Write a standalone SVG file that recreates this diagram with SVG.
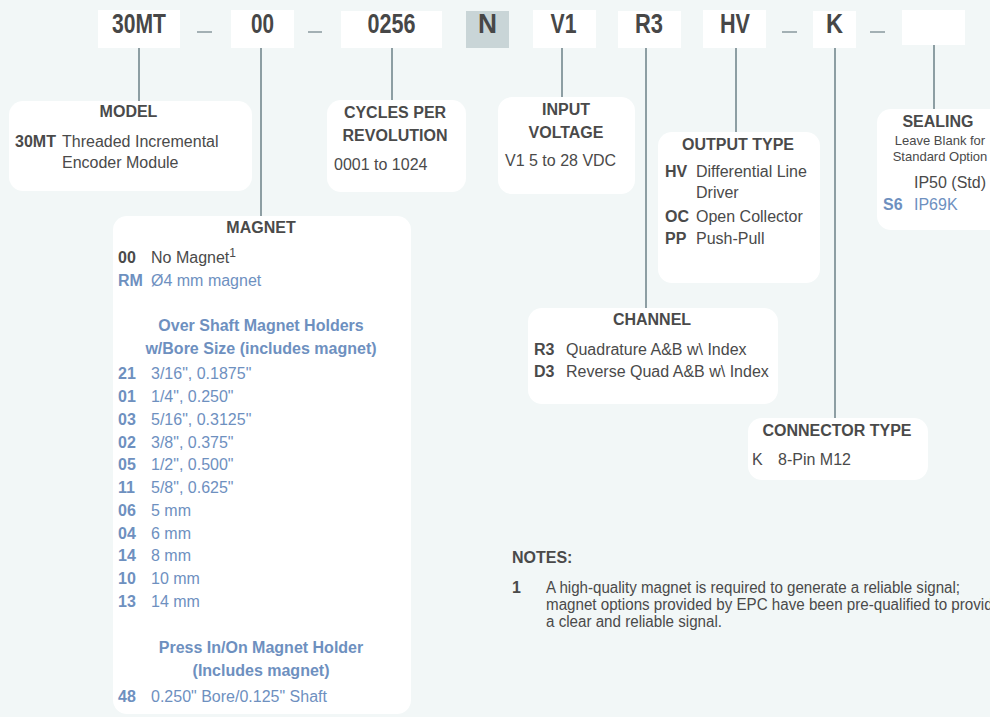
<svg xmlns="http://www.w3.org/2000/svg" width="990" height="717" viewBox="0 0 990 717">
<style>
text{font-family:"Liberation Sans",Arial,sans-serif;fill:#4a4a4a;font-size:16px}
.top{font-weight:bold;font-size:27px;text-anchor:middle;fill:#474747}
.t{font-weight:bold;text-anchor:middle}
.b{font-weight:bold}
.blue{fill:#6e90bf}
.sm{font-size:13px;text-anchor:middle}
.note{font-size:16px}
.card{fill:#ffffff}
.seg{fill:#ffffff}
.dash{stroke:#a3b0b4;stroke-width:2}
.conn{stroke:#8d9ea3;stroke-width:2;fill:none}
</style>
<rect x="0" y="0" width="990" height="717" fill="#f2f7f7"/>

<g id="code-bar">
  <rect class="seg" x="98" y="10" width="82" height="38"/>
  <text class="top" x="139" y="33" textLength="54" lengthAdjust="spacingAndGlyphs">30MT</text>
  <line class="dash" x1="197" y1="32" x2="212" y2="32"/>
  <rect class="seg" x="231" y="10" width="63" height="38"/>
  <text class="top" x="262.5" y="33" textLength="23" lengthAdjust="spacingAndGlyphs">00</text>
  <line class="dash" x1="308" y1="32" x2="322" y2="32"/>
  <rect class="seg" x="341" y="11" width="101" height="37"/>
  <text class="top" x="391.5" y="33" textLength="48" lengthAdjust="spacingAndGlyphs">0256</text>
  <rect x="466" y="11" width="43" height="37" fill="#c9d5d7"/>
  <text class="top" x="487.5" y="33" textLength="19" lengthAdjust="spacingAndGlyphs">N</text>
  <rect class="seg" x="533" y="10" width="63" height="38"/>
  <text class="top" x="563.5" y="33" textLength="26" lengthAdjust="spacingAndGlyphs">V1</text>
  <rect class="seg" x="618" y="11" width="63" height="37"/>
  <text class="top" x="649" y="33" textLength="28" lengthAdjust="spacingAndGlyphs">R3</text>
  <rect class="seg" x="703" y="10" width="63" height="38"/>
  <text class="top" x="735" y="33" textLength="30" lengthAdjust="spacingAndGlyphs">HV</text>
  <line class="dash" x1="782" y1="32" x2="797" y2="32"/>
  <rect class="seg" x="813" y="11" width="43" height="37"/>
  <text class="top" x="834.5" y="33" textLength="17" lengthAdjust="spacingAndGlyphs">K</text>
  <line class="dash" x1="870" y1="32" x2="885" y2="32"/>
  <rect class="seg" x="902" y="10" width="63" height="35"/>
</g>

<g id="connectors">
  <line class="conn" x1="139" y1="48" x2="139" y2="101"/>
  <line class="conn" x1="261" y1="48" x2="261" y2="216"/>
  <line class="conn" x1="392" y1="48" x2="392" y2="100"/>
  <line class="conn" x1="562" y1="48" x2="562" y2="97"/>
  <line class="conn" x1="646" y1="48" x2="646" y2="308"/>
  <line class="conn" x1="736" y1="48" x2="736" y2="132"/>
  <line class="conn" x1="835" y1="48" x2="835" y2="418"/>
  <line class="conn" x1="934" y1="45" x2="934" y2="109"/>
</g>

<g id="model">
  <rect class="card" x="9" y="101" width="243" height="90" rx="14"/>
  <text class="t" x="128.5" y="117">MODEL</text>
  <text class="b" x="15" y="147">30MT</text>
  <text x="62" y="147">Threaded Incremental</text>
  <text x="62" y="168">Encoder Module</text>
</g>

<g id="cycles">
  <rect class="card" x="327" y="100" width="139" height="92" rx="14"/>
  <text class="t" x="395" y="118">CYCLES PER</text>
  <text class="t" x="395" y="141">REVOLUTION</text>
  <text x="334" y="170">0001 to 1024</text>
</g>

<g id="input">
  <rect class="card" x="498" y="97" width="137" height="97" rx="14"/>
  <text class="t" x="566" y="115">INPUT</text>
  <text class="t" x="566" y="138">VOLTAGE</text>
  <text x="505" y="166">V1 5 to 28 VDC</text>
</g>

<g id="output">
  <rect class="card" x="658" y="132" width="162" height="151" rx="14"/>
  <text class="t" x="738" y="150">OUTPUT TYPE</text>
  <text class="b" x="665" y="177">HV</text>
  <text x="696" y="177">Differential Line</text>
  <text x="696" y="198">Driver</text>
  <text class="b" x="665" y="222">OC</text>
  <text x="696" y="222">Open Collector</text>
  <text class="b" x="665" y="244">PP</text>
  <text x="696" y="244">Push-Pull</text>
</g>

<g id="sealing">
  <rect class="card" x="877" y="109" width="130" height="121" rx="14"/>
  <text class="t" x="938" y="127">SEALING</text>
  <text class="sm" x="940" y="145">Leave Blank for</text>
  <text class="sm" x="940" y="161">Standard Option</text>
  <text x="914" y="188">IP50 (Std)</text>
  <text class="b blue" x="883" y="210">S6</text>
  <text class="blue" x="914" y="210">IP69K</text>
</g>

<g id="magnet">
  <rect class="card" x="113" y="216" width="298" height="498" rx="14"/>
  <text class="t" x="261" y="233">MAGNET</text>
  <text class="b" x="118" y="263">00</text>
  <text x="151" y="263">No Magnet<tspan font-size="12" dy="-6">1</tspan></text>
  <text class="b blue" x="118" y="286">RM</text>
  <text class="blue" x="151" y="286">Ø4 mm magnet</text>
  <text class="t blue" x="261" y="331">Over Shaft Magnet Holders</text>
  <text class="t blue" x="261" y="354">w/Bore Size (includes magnet)</text>
  <g class="list">
    <text class="b blue" x="118" y="379">21</text><text class="blue" x="151" y="379">3/16", 0.1875"</text>
    <text class="b blue" x="118" y="402">01</text><text class="blue" x="151" y="402">1/4", 0.250"</text>
    <text class="b blue" x="118" y="425">03</text><text class="blue" x="151" y="425">5/16", 0.3125"</text>
    <text class="b blue" x="118" y="448">02</text><text class="blue" x="151" y="448">3/8", 0.375"</text>
    <text class="b blue" x="118" y="470">05</text><text class="blue" x="151" y="470">1/2", 0.500"</text>
    <text class="b blue" x="118" y="493">11</text><text class="blue" x="151" y="493">5/8", 0.625"</text>
    <text class="b blue" x="118" y="516">06</text><text class="blue" x="151" y="516">5 mm</text>
    <text class="b blue" x="118" y="539">04</text><text class="blue" x="151" y="539">6 mm</text>
    <text class="b blue" x="118" y="561">14</text><text class="blue" x="151" y="561">8 mm</text>
    <text class="b blue" x="118" y="584">10</text><text class="blue" x="151" y="584">10 mm</text>
    <text class="b blue" x="118" y="607">13</text><text class="blue" x="151" y="607">14 mm</text>
  </g>
  <text class="t blue" x="261" y="653">Press In/On Magnet Holder</text>
  <text class="t blue" x="261" y="676">(Includes magnet)</text>
  <text class="b blue" x="118" y="702">48</text>
  <text class="blue" x="151" y="702">0.250" Bore/0.125" Shaft</text>
</g>

<g id="channel">
  <rect class="card" x="528" y="308" width="250" height="96" rx="14"/>
  <text class="t" x="652" y="325">CHANNEL</text>
  <text class="b" x="534" y="355">R3</text>
  <text x="566" y="355">Quadrature A&amp;B w\ Index</text>
  <text class="b" x="534" y="377">D3</text>
  <text x="566" y="377">Reverse Quad A&amp;B w\ Index</text>
</g>

<g id="connector-type">
  <rect class="card" x="748" y="418" width="180" height="62" rx="14"/>
  <text class="t" x="837" y="436">CONNECTOR TYPE</text>
  <text x="752" y="465">K</text>
  <text x="778" y="465">8-Pin M12</text>
</g>

<g id="notes">
  <text class="b" x="512" y="563">NOTES:</text>
  <text class="b note" x="512" y="593">1</text>
  <text class="note" x="546" y="593" textLength="414" lengthAdjust="spacingAndGlyphs">A high-quality magnet is required to generate a reliable signal;</text>
  <text class="note" x="546" y="610" textLength="455" lengthAdjust="spacingAndGlyphs">magnet options provided by EPC have been pre-qualified to provide</text>
  <text class="note" x="546" y="627" textLength="176" lengthAdjust="spacingAndGlyphs">a clear and reliable signal.</text>
</g>
</svg>
